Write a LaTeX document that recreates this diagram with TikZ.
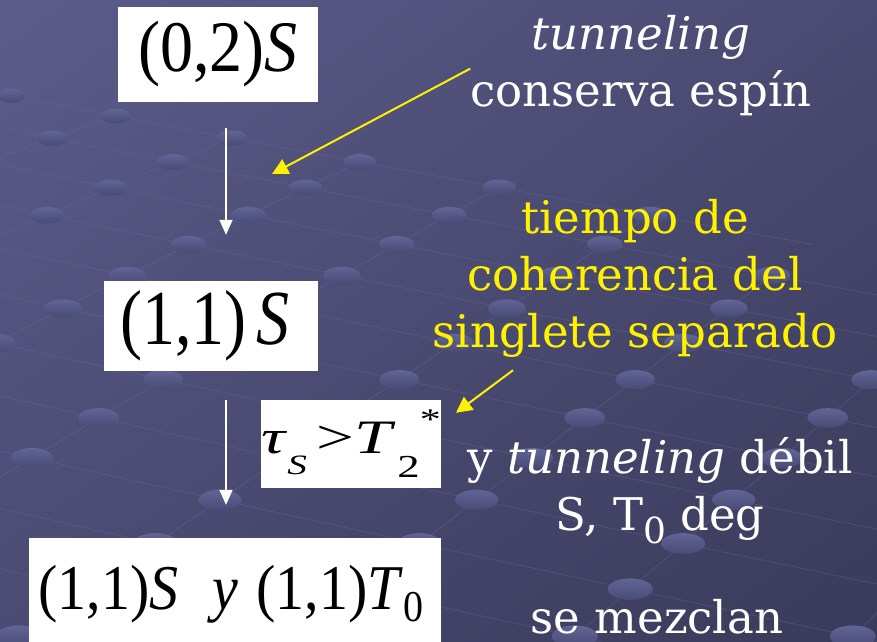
\documentclass[tikz,border=0pt]{standalone}
\usepackage{graphicx}
\usepackage{fontspec}
\setmainfont{DejaVu Serif}
\newfontfamily\tmsfont{Liberation Serif}
\usetikzlibrary{arrows.meta,calc,shadings}
\definecolor{bgA}{HTML}{5B5C8A}
\definecolor{bgM}{HTML}{4A4A72}
\definecolor{bgB}{HTML}{3A3A5A}
\definecolor{dotA}{HTML}{626496}
\definecolor{dotB}{HTML}{484A76}
\definecolor{gridc}{HTML}{6A6C9C}
\newcommand{\boxfont}[1]{\tmsfont\fontsize{#1}{#1}\selectfont}
\tikzset{
mathbox/.style={rectangle,draw=none,fill=white,inner sep=0pt,align=center,text=black},
notewhite/.style={text=white,align=center,inner sep=0pt,anchor=base,font=\fontsize{45}{57}\selectfont},
noteyellow/.style={notewhite,text=yellow},
downarr/.style={draw=white,line width=1.5pt,-{Triangle[length=15pt,width=13pt]}},
yelarr/.style={draw=yellow,line width=2pt,-{Triangle[length=16pt,width=16pt]}},
gridln/.style={draw=gridc,line width=1pt,opacity=0.3},
dotbg/.style={top color=dotA,bottom color=dotB,draw=none}
}

\begin{document}
\begin{tikzpicture}[x=1pt,y=-1pt]
\useasboundingbox (0,0) rectangle (877,641);
\begin{scope}
\clip (0,0) rectangle (877,641);
\shade[upper left=bgA,upper right=bgM,lower left=bgM,lower right=bgB] (0,0) rectangle (877,641);
\foreach \j in {-2,...,15}{
  \foreach \i in {-3,...,6}{
    \pgfmathsetmacro\ya{138+23*\j+0.9*\j*\j}
    \pgfmathsetmacro\xa{232-58*\j-1.2*\j*\j+(180+7*\j)*\i}
    \pgfmathsetmacro\yb{138+23*(\j+1)+0.9*(\j+1)*(\j+1)}
    \pgfmathsetmacro\xb{232-58*(\j+1)-1.2*(\j+1)*(\j+1)+(180+7*(\j+1))*\i}
    \pgfmathsetmacro\xc{\xb+180+7*(\j+1)}
    \pgfmathparse{\ya>90+0.19*\xa?1:0}
    \ifnum\pgfmathresult=1
      \draw[gridln] (\xa,\ya) -- (\xb,\yb);
      \draw[gridln] (\xa,\ya) -- (\xc,\yb);
    \fi
  }
}
\foreach \j in {-2,...,15}{
  \foreach \i in {-3,...,6}{
    \pgfmathsetmacro\ya{138+23*\j+0.9*\j*\j}
    \pgfmathsetmacro\xa{232-58*\j-1.2*\j*\j+(180+7*\j)*\i}
    \pgfmathparse{\ya>90+0.19*\xa?1:0}
    \ifnum\pgfmathresult=1
      \shade[dotbg] (\xa,\ya) ellipse [x radius=16+0.5*\j, y radius=7.5+0.25*\j];
    \fi
  }
}
\end{scope}

\node[mathbox,minimum width=200pt,minimum height=95pt,font=\boxfont{66}] (box1) at (218,54.5) {\raisebox{4pt}{\scalebox{1}[1.1]{(0,2)\textit{S}}}};
\node[mathbox,minimum width=214pt,minimum height=90pt,font=\boxfont{66}] (box2) at (211,326) {\scalebox{1}[1.18]{(1,1)\hspace{10pt}\textit{S}}\hspace{12pt}};
\node[mathbox,minimum width=176pt,minimum height=88pt,font=\boxfont{48}] (tau) at (351,444) {\scalebox{1.4}[1]{\textit{τ}\raisebox{-21pt}{\boxfont{28}\textit{S}}\hspace{7pt}>\textit{T}\hspace{1pt}\raisebox{-24pt}{\boxfont{32}2}\raisebox{24pt}{\boxfont{30}*}}};
\node[mathbox,minimum width=412pt,minimum height=112pt,font=\boxfont{58}] (box4) at (235,594) {\raisebox{8pt}{\scalebox{1}[1.1]{(1,1)\textit{S}\hspace{34pt}\textit{y}\hspace{18pt}(1,1)\textit{T}\raisebox{-11pt}{\boxfont{40}0}}}\hspace{8pt}};

\node[notewhite] (tun) at (641,106) {\textit{tunneling}\\conserva espín};
\node[noteyellow] (coh) at (635,347) {tiempo de\\coherencia del\\singlete separado};
\node[notewhite] (deb) at (660,530) {y \textit{tunneling} débil\\S, T\raisebox{-13pt}{\fontsize{36}{36}\selectfont 0} deg};
\node[notewhite] (mez) at (657,633) {se mezclan};

\coordinate (col) at (226,0);
\coordinate (tip1) at (272,174);
\draw[downarr,shorten <=26pt,shorten >=46pt] (box1.south -| col) -- (box2.north -| col);
\draw[downarr,shorten <=29pt,shorten >=33pt] (box2.south -| col) -- (box4.north -| col);
\draw[yelarr] ([yshift=-3.5pt]tun.west) -- (tip1);
\draw[yelarr] ([xshift=-122pt,yshift=-13pt]coh.south) -- ([xshift=15pt,yshift=-13pt]tau.north east);
\end{tikzpicture}
\end{document}
